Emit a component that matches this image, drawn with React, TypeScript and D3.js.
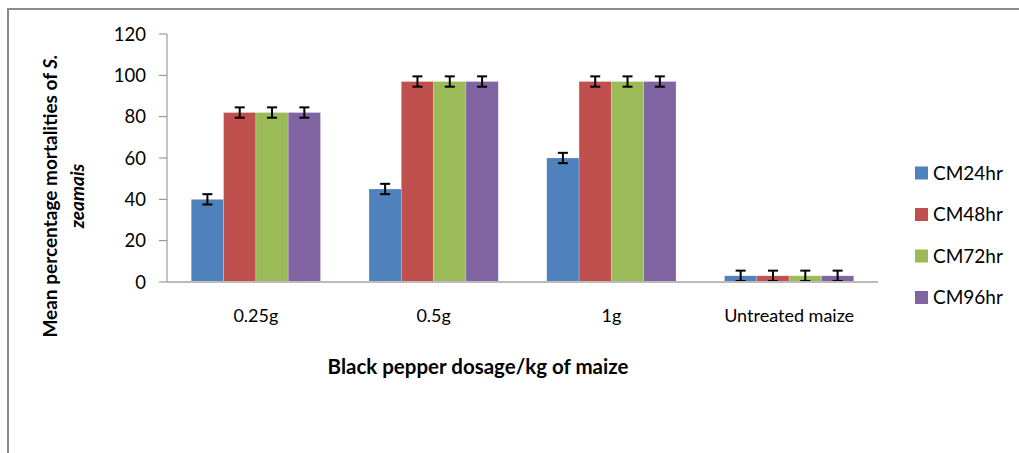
import React from 'react'
import * as d3 from 'd3'

const categories = ['0.25g', '0.5g', '1g', 'Untreated maize']
const seriesNames = ['CM24hr', 'CM48hr', 'CM72hr', 'CM96hr']
const cm24 = [40, 45, 60, 3]
const cm48 = [82, 97, 97, 3]
const cm72 = [82, 97, 97, 3]
const cm96 = [82, 97, 97, 3]
const errors = [2.5, 2.5, 2.5, 2.5]
const yTicks = [0, 20, 40, 60, 80, 100, 120]
const colors = ['#4F81BD', '#C0504D', '#9BBB59', '#8064A2']

const seriesValues = [cm24, cm48, cm72, cm96]

const W = 1019
const H = 453
const left = 167
const right = 878
const top = 34
const bottom = 282
const font = 'Lato, Carlito, Calibri, sans-serif'

const App = () => {
  const x0 = d3.scaleBand().domain(categories).range([left, right]).padding(0)
  const x1 = d3
    .scaleBand()
    .domain(seriesNames)
    .range([0, x0.bandwidth()])
    .paddingInner(0)
    .paddingOuter(0.75)
  const y = d3.scaleLinear().domain([0, 120]).range([bottom, top])

  return (
    <svg
      width={W}
      height={H}
      style={{ position: 'absolute', left: 0, top: 0, background: '#fff' }}
    >
      {/* chart frame, cut off at right and bottom */}
      <path d={`M8,${H + 5} V9 H${W + 5}`} fill="none" stroke="#8a8a8a" strokeWidth={2} />

      {/* bars */}
      {categories.map((c, ci) => (
        <g key={c}>
          {seriesNames.map((s, si) => {
            const v = seriesValues[si][ci]
            const bx = (x0(c) ?? 0) + (x1(s) ?? 0)
            return (
              <rect
                key={s}
                x={bx}
                y={y(v)}
                width={x1.bandwidth()}
                height={bottom - y(v)}
                fill={colors[si]}
                stroke="#ffffff"
                strokeOpacity={0.35}
                strokeWidth={0.6}
              />
            )
          })}
        </g>
      ))}

      {/* error bars */}
      {categories.map((c, ci) => (
        <g key={c + '-err'} stroke="#000" strokeWidth={2}>
          {seriesNames.map((s, si) => {
            const v = seriesValues[si][ci]
            const cx = (x0(c) ?? 0) + (x1(s) ?? 0) + x1.bandwidth() / 2
            const e = errors[si]
            return (
              <g key={s}>
                <line x1={cx} x2={cx} y1={y(v + e)} y2={y(v - e)} />
                <line x1={cx - 5} x2={cx + 5} y1={y(v + e)} y2={y(v + e)} />
                <line x1={cx - 5} x2={cx + 5} y1={y(v - e)} y2={y(v - e)} />
              </g>
            )
          })}
        </g>
      ))}

      {/* y axis */}
      <line x1={left} x2={left} y1={top} y2={bottom} stroke="#888" strokeWidth={1} />
      {yTicks.map((t) => (
        <g key={t}>
          <line x1={left - 8} x2={left} y1={y(t)} y2={y(t)} stroke="#888" strokeWidth={1} />
          <text
            x={146}
            y={y(t)}
            dy="0.36em"
            textAnchor="end"
            fontFamily={font}
            fontSize={18.5}
            fill="#000"
          >
            {t}
          </text>
        </g>
      ))}

      {/* x axis */}
      <line x1={left} x2={right} y1={bottom} y2={bottom} stroke="#bbb" strokeWidth={2} />
      {categories.map((c) => (
        <text
          key={c}
          x={(x0(c) ?? 0) + x0.bandwidth() / 2}
          y={322}
          textAnchor="middle"
          fontFamily={font}
          fontSize={18}
          fill="#000"
        >
          {c}
        </text>
      ))}

      {/* axis titles */}
      <text
        x={478}
        y={374}
        textAnchor="middle"
        fontFamily={font}
        fontSize={20.5}
        fontWeight="bold"
        fill="#000"
      >
        Black pepper dosage/kg of maize
      </text>
      <text
        transform="translate(57,196) rotate(-90)"
        textAnchor="middle"
        fontFamily={font}
        fontSize={19}
        fontWeight="bold"
        fill="#000"
      >
        Mean percentage mortalities of <tspan fontStyle="italic">S.</tspan>
      </text>
      <text
        transform="translate(84,196) rotate(-90)"
        textAnchor="middle"
        fontFamily={font}
        fontSize={19}
        fontWeight="bold"
        fontStyle="italic"
        fill="#000"
      >
        zeamais
      </text>

      {/* legend */}
      {seriesNames.map((s, i) => (
        <g key={s} transform={`translate(915, ${173 + i * 41.5})`}>
          <rect x={0} y={-6.5} width={13} height={13} fill={colors[i]} />
          <text x={18} y={0} dy="0.36em" fontFamily={font} fontSize={19} fill="#000">
            {s}
          </text>
        </g>
      ))}
    </svg>
  )
}

export default App
